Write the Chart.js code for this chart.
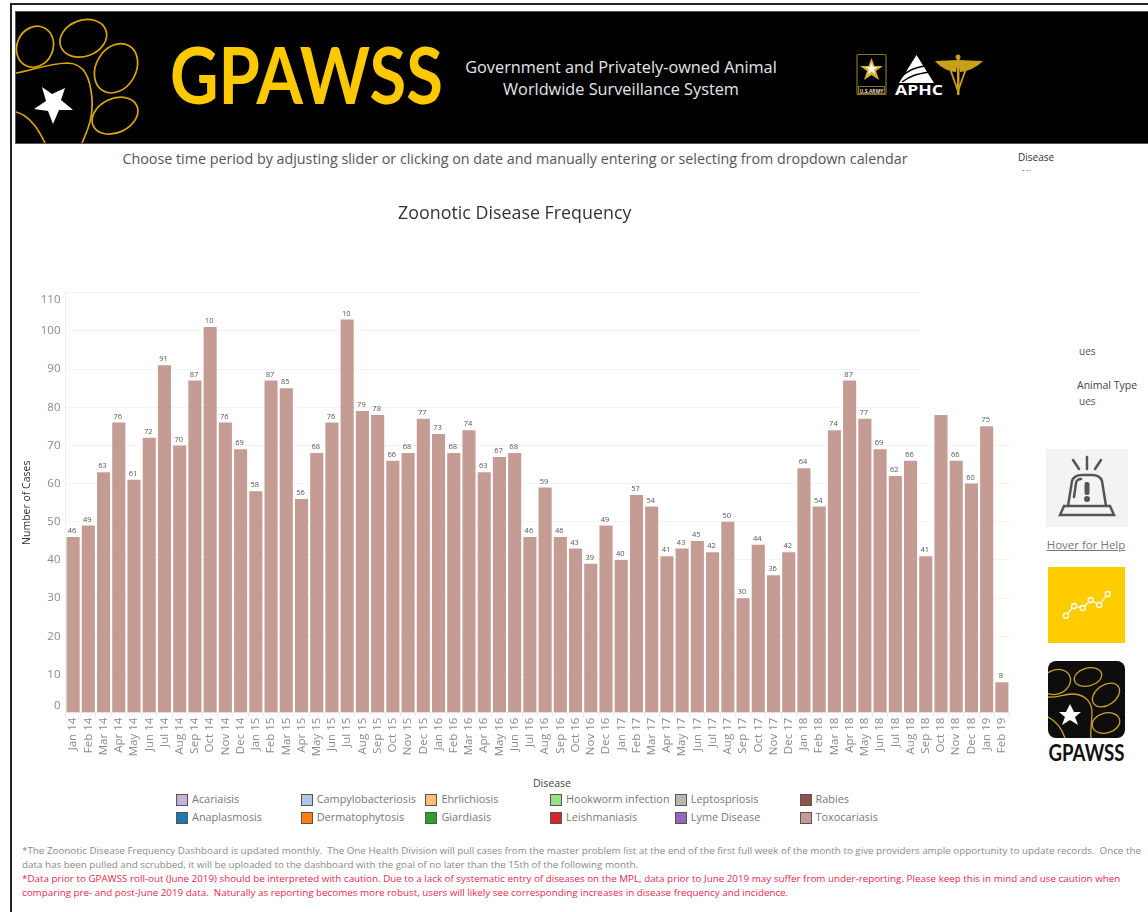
<!DOCTYPE html>
<html>
<head>
<meta charset="utf-8">
<title>Zoonotic Disease Frequency</title>
<script src="https://cdn.jsdelivr.net/npm/chart.js@4"></script>
<style>
  html, body { margin: 0; padding: 0; background: #fff; }
  body { position: relative; width: 1148px; height: 912px; overflow: hidden; font-family: "Open Sans", sans-serif; }
  .abs { position: absolute; white-space: pre; }
  #frameTop { left: 10px; top: 3px; width: 1138px; height: 2px; background: #222; }
  #frameLeft { left: 10px; top: 3px; width: 2px; height: 909px; background: #222; }
  #banner { left: 15px; top: 11px; }
  #pick { left: 0; width: 1030px; top: 149px; text-align: center; font-size: 14.3px; color: #555; }
  #chartBox { left: 20px; top: 198px; width: 990px; height: 564px; }
  #cover { left: 920px; top: 280px; width: 110px; height: 130px; background: #fff; }
  #legendTitle { left: 533px; top: 776px; font-size: 10.5px; color: #444; }
  .swatch { position: absolute; width: 10px; height: 10px; border: 1px solid #555; }
  .legItem { position: absolute; font-size: 10.9px; color: #777; white-space: pre; }
  .note { position: absolute; left: 22px; font-size: 9.82px; white-space: pre; }
</style>
</head>
<body>
<div class="abs" id="frameTop"></div>
<div class="abs" id="frameLeft"></div>

<svg class="abs" id="banner" width="1133" height="133" viewBox="15 11 1133 133">
  <rect x="15.500" y="11.500" width="1133" height="132" fill="#000" stroke="#555"/>
  <g fill="none" stroke="#d9a800" stroke-width="1.7">
    <ellipse cx="35" cy="46.700" rx="18" ry="21" transform="rotate(25 35 46.700)"/>
    <ellipse cx="83.300" cy="38.300" rx="24" ry="18" transform="rotate(-20 83.300 38.300)"/>
    <ellipse cx="116" cy="68.300" rx="20" ry="26" transform="rotate(30 116 68.300)"/>
    <ellipse cx="115" cy="115.700" rx="24" ry="17" transform="rotate(-25 115 115.700)"/>
    <path d="M16 73 C30 71 50 63 68 63 C85 64 90 78 92 98 C93 115 90 125 82 143"/>
    <path d="M16 112 C28 115 38 128 45 143"/>
  </g>
  <polygon points="42,87 52,94 65,88 61,100 73,110 59,110 53,124 48,111 34,109 46,101" fill="#fff"/>
  <text x="170" y="104" font-family="Lato" font-weight="700" font-size="78" fill="#fcc800" textLength="273" lengthAdjust="spacingAndGlyphs">GPAWSS</text>
  <g font-family="Open Sans" font-size="16.300" fill="#e6e6e6" text-anchor="middle">
    <text x="621" y="73">Government and Privately-owned Animal</text>
    <text x="621" y="95">Worldwide Surveillance System</text>
  </g>
  <rect x="857" y="54.500" width="29" height="40" rx="1" fill="none" stroke="#8a7020" stroke-width="1.2"/>
  <polygon points="871.500,58 874.500,66 883,66 876,71 879,80 871.500,75 864,80 867,71 860,66 868.500,66" fill="#d9b23a"/>
  <polygon points="871.500,63 873,67 877,67 874,69.500 875,74 871.500,71.500 868,74 869,69.500 866,67 870,67" fill="#fff"/>
  <rect x="858.500" y="86.500" width="26" height="7" fill="none" stroke="#8a7020"/>
  <text x="871.500" y="92.500" text-anchor="middle" font-family="Open Sans" font-weight="700" font-size="5" fill="#ddd">U.S.ARMY</text>
  <polygon points="916.500,55 934,83 899,83" fill="#fff"/>
  <path d="M900 78 C908 70 914 68 925 66 M902 82 C910 76 916 74 930 72" stroke="#000" stroke-width="1.500" fill="none"/>
  <text x="895" y="95" font-family="Open Sans" font-weight="700" font-size="14" fill="#fff" textLength="48" lengthAdjust="spacingAndGlyphs">APHC</text>
  <g fill="#c9a018">
    <path d="M958 60 L935 61 C941 68 950 72 956 72 Z"/>
    <path d="M958 60 L983 61 C976 68 966 72 960 72 Z"/>
    <rect x="957" y="56" width="2.500" height="39"/>
    <circle cx="958" cy="57" r="2.500"/>
  </g>
  <path d="M949 66 L958 91 L967 66" fill="none" stroke="#c9a018" stroke-width="1.800"/>
</svg>

<div class="abs" id="pick">Choose time period by adjusting slider or clicking on date and manually entering or selecting from dropdown calendar</div>
<div class="abs" style="left:1018px;top:150px;font-size:10px;color:#333">Disease</div>
<div class="abs" style="left:1020px;top:167px;height:4px;overflow:hidden;font-size:10px;color:#555">All</div>

<div class="abs" id="chartBox"><canvas id="freq"></canvas></div>
<div class="abs" id="cover"></div>

<div class="abs" style="left:1079px;top:344px;font-size:10px;color:#555">ues</div>
<div class="abs" style="left:1077px;top:378px;font-size:10.500px;color:#444">Animal Type</div>
<div class="abs" style="left:1079px;top:394px;font-size:10px;color:#555">ues</div>

<svg class="abs" style="left:1046px;top:449px" width="82" height="78" viewBox="0 0 82 78">
  <rect width="82" height="78" fill="#f2f4f2"/>
  <g fill="none" stroke="#555" stroke-width="2.500" stroke-linecap="round">
    <path d="M14 66 L68 66 L64 57 L18 57 Z"/>
    <path d="M22 57 L26 32 Q28 26 36 26 L46 26 Q54 26 56 32 L60 57"/>
    <path d="M41 8 V20 M27 11 L33 20 M55 11 L49 20"/>
    <path d="M28 48 L30 34 Q31 30 35 30"/>
  </g>
  <rect x="38.500" y="33" width="5" height="13" rx="2" fill="#555"/>
  <circle cx="41" cy="50" r="3" fill="#555"/>
</svg>
<div class="abs" style="left:1046px;width:80px;top:537px;text-align:center;font-size:11.500px;color:#777;text-decoration:underline">Hover for Help</div>

<svg class="abs" style="left:1048px;top:567px" width="77" height="76" viewBox="0 0 77 76">
  <rect width="77" height="76" fill="#ffcc00"/>
  <polyline points="18,48.700 26,39 34.700,41 42.700,33 51.300,38 59.700,27" fill="none" stroke="#fff" stroke-width="1.200"/>
  <g fill="#ffcc00" stroke="#fff" stroke-width="1.300">
    <circle cx="18" cy="48.700" r="2.500"/><circle cx="26" cy="39" r="2.500"/><circle cx="34.700" cy="41" r="2.500"/>
    <circle cx="42.700" cy="33" r="2.500"/><circle cx="51.300" cy="38" r="2.500"/><circle cx="59.700" cy="27" r="2.500"/>
  </g>
</svg>

<svg class="abs" style="left:1048px;top:661px" width="77" height="104" viewBox="0 0 77 104">
  <clipPath id="tile"><rect width="77" height="77" rx="8"/></clipPath>
  <rect width="77" height="77" rx="8" fill="#0d0d0d"/>
  <g clip-path="url(#tile)" fill="none" stroke="#c9a227" stroke-width="1.300">
    <ellipse cx="8" cy="21" rx="15" ry="12" transform="rotate(-25 8 21)"/>
    <ellipse cx="40" cy="16" rx="14" ry="9" transform="rotate(-15 40 16)"/>
    <ellipse cx="58" cy="34" rx="15" ry="10" transform="rotate(-35 58 34)"/>
    <ellipse cx="58" cy="62" rx="14" ry="10" transform="rotate(-15 58 62)"/>
    <path d="M0 36 C10 37 15 33 24 33 C34 33 43 38 44 50 C44 62 42 70 43 77"/>
    <path d="M0 56 C8 60 14 68 17 77"/>
  </g>
  <polygon points="22,43 26,51 33,51 27,56 30,64 22,59 14,64 17,56 11,51 18,51" fill="#fff"/>
  <text x="0.500" y="100" font-family="Lato" font-weight="700" font-size="22" fill="#111" textLength="76" lengthAdjust="spacingAndGlyphs">GPAWSS</text>
</svg>

<div class="abs" id="legendTitle">Disease</div>
<div id="legend"></div>
<div id="notes"></div>

<script>
// values, one per month
const months = [
  "Jan 14","Feb 14","Mar 14","Apr 14","May 14","Jun 14","Jul 14","Aug 14","Sep 14","Oct 14","Nov 14","Dec 14",
  "Jan 15","Feb 15","Mar 15","Apr 15","May 15","Jun 15","Jul 15","Aug 15","Sep 15","Oct 15","Nov 15","Dec 15",
  "Jan 16","Feb 16","Mar 16","Apr 16","May 16","Jun 16","Jul 16","Aug 16","Sep 16","Oct 16","Nov 16","Dec 16",
  "Jan 17","Feb 17","Mar 17","Apr 17","May 17","Jun 17","Jul 17","Aug 17","Sep 17","Oct 17","Nov 17","Dec 17",
  "Jan 18","Feb 18","Mar 18","Apr 18","May 18","Jun 18","Jul 18","Aug 18","Sep 18","Oct 18","Nov 18","Dec 18",
  "Jan 19","Feb 19"
];
const toxocariasis = [
  46,49,63,76,61,72,91,70,87,101,76,69,
  58,87,85,56,68,76,103,79,78,66,68,77,
  73,68,74,63,67,68,46,59,46,43,39,49,
  40,57,54,41,43,45,42,50,30,44,36,42,
  64,54,74,87,77,69,62,66,41,78,66,60,
  75,8
];
// labels as printed above the bars (the picture cuts 101 and 103 to "10", Oct 18 has none)
const barLabels = [
  "46","49","63","76","61","72","91","70","87","10","76","69",
  "58","87","85","56","68","76","10","79","78","66","68","77",
  "73","68","74","63","67","68","46","59","46","43","39","49",
  "40","57","54","41","43","45","42","50","30","44","36","42",
  "64","54","74","87","77","69","62","66","41","","66","60",
  "75","8"
];
const diseaseNames = ["Acariaisis","Anaplasmosis","Campylobacteriosis","Dermatophytosis","Ehrlichiosis","Giardiasis",
  "Hookworm infection","Leishmaniasis","Leptospriosis","Lyme Disease","Rabies","Toxocariasis"];
const diseaseColors = ["#c5b0d5","#1f77b4","#aec7e8","#ff7f0e","#ffbb78","#2ca02c",
  "#98df8a","#d62728","#bcb6b0","#9467bd","#8c564b","#c49c94"];
const notes = [
  ["*The Zoonotic Disease Frequency Dashboard is updated monthly.  The One Health Division will pull cases from the master problem list at the end of the first full week of the month to give providers ample opportunity to update records.  Once the", "#8a8a8a"],
  ["data has been pulled and scrubbed, it will be uploaded to the dashboard with the goal of no later than the 15th of the following month.", "#8a8a8a"],
  ["*Data prior to GPAWSS roll-out (June 2019) should be interpreted with caution. Due to a lack of systematic entry of diseases on the MPL, data prior to June 2019 may suffer from under-reporting. Please keep this in mind and use caution when", "#e8294f"],
  ["comparing pre- and post-June 2019 data.  Naturally as reporting becomes more robust, users will likely see corresponding increases in disease frequency and incidence.", "#e8294f"]
];

// legend: two rows, filled column by column
const legend = document.getElementById("legend");
diseaseNames.forEach(function(name, i) {
  const col = Math.floor(i / 2), row = i % 2;
  const x = 176 + col * 124.7, y = 794 + row * 18;
  const sw = document.createElement("div");
  sw.className = "swatch";
  sw.style.left = x + "px";
  sw.style.top = y + "px";
  sw.style.background = diseaseColors[i];
  legend.appendChild(sw);
  const t = document.createElement("div");
  t.className = "legItem";
  t.style.left = (x + 16) + "px";
  t.style.top = (y - 3) + "px";
  t.textContent = name;
  legend.appendChild(t);
});

const notesBox = document.getElementById("notes");
notes.forEach(function(n, i) {
  const d = document.createElement("div");
  d.className = "note";
  d.style.top = (844 + i * 14) + "px";
  d.style.color = n[1];
  d.textContent = n[0];
  notesBox.appendChild(d);
});

// value labels over the bars
const barLabelPlugin = {
  id: "barLabelPlugin",
  afterDatasetsDraw(chart) {
    const ctx = chart.ctx;
    ctx.save();
    ctx.font = '7.5px "Open Sans"';
    ctx.fillStyle = "#555";
    ctx.textAlign = "center";
    ctx.textBaseline = "middle";
    chart.getDatasetMeta(0).data.forEach(function(bar, i) {
      ctx.fillText(barLabels[i], bar.x - 1, bar.y - 6);
    });
    ctx.restore();
  }
};

const config = {
  type: "bar",
  data: {
    labels: months,
    datasets: [{
      label: "Toxocariasis",
      data: toxocariasis,
      backgroundColor: "#c49c94",
      barPercentage: 0.86,
      categoryPercentage: 1
    }]
  },
  plugins: [barLabelPlugin],
  options: {
    responsive: true,
    maintainAspectRatio: false,
    animation: false,
    layout: { padding: { left: 0, right: 0.5, top: 0, bottom: 0 } },
    plugins: {
      legend: { display: false },
      tooltip: { enabled: false },
      title: {
        display: true,
        text: "Zoonotic Disease Frequency",
        color: "#333",
        font: { family: "Open Sans", size: 17.85, weight: "500" },
        padding: { top: 5.5, bottom: 67.8 }
      }
    },
    scales: {
      x: {
        grid: { drawOnChartArea: false, color: "#e8e8e8", tickLength: 4 },
        border: { color: "#eeeeee" },
        ticks: {
          autoSkip: false, minRotation: 90, maxRotation: 90, padding: 1,
          color: "#8a8a8a", font: { family: "Open Sans", size: 11.5 }
        },
        // keep the plot edge fixed, the last rotated label needs no extra room
        afterFit(scale) {
          scale.height = 49.3;
          scale.paddingLeft = 0;
          scale.paddingRight = 0;
        }
      },
      y: {
        min: 0,
        max: 110,
        grid: { color: "#f3f3f3", drawTicks: false },
        border: { color: "#eeeeee" },
        ticks: {
          stepSize: 10, padding: 5, color: "#8a8a8a",
          font: { family: "Open Sans", size: 11.5 },
          // end labels stay inside the pane, as in the picture
          callback(v) {
            if (v === 0) return ["0", ""];
            if (v === 110) return ["", "110"];
            return String(v);
          }
        },
        title: {
          display: true, text: "Number of Cases", color: "#333",
          font: { family: "Open Sans", size: 10.5 },
          padding: { top: 1, bottom: 0 }
        },
        afterFit(scale) { scale.width = 45.5; }
      }
    }
  }
};

const freqChart = new Chart(document.getElementById("freq"), config);
</script>
</body>
</html>
